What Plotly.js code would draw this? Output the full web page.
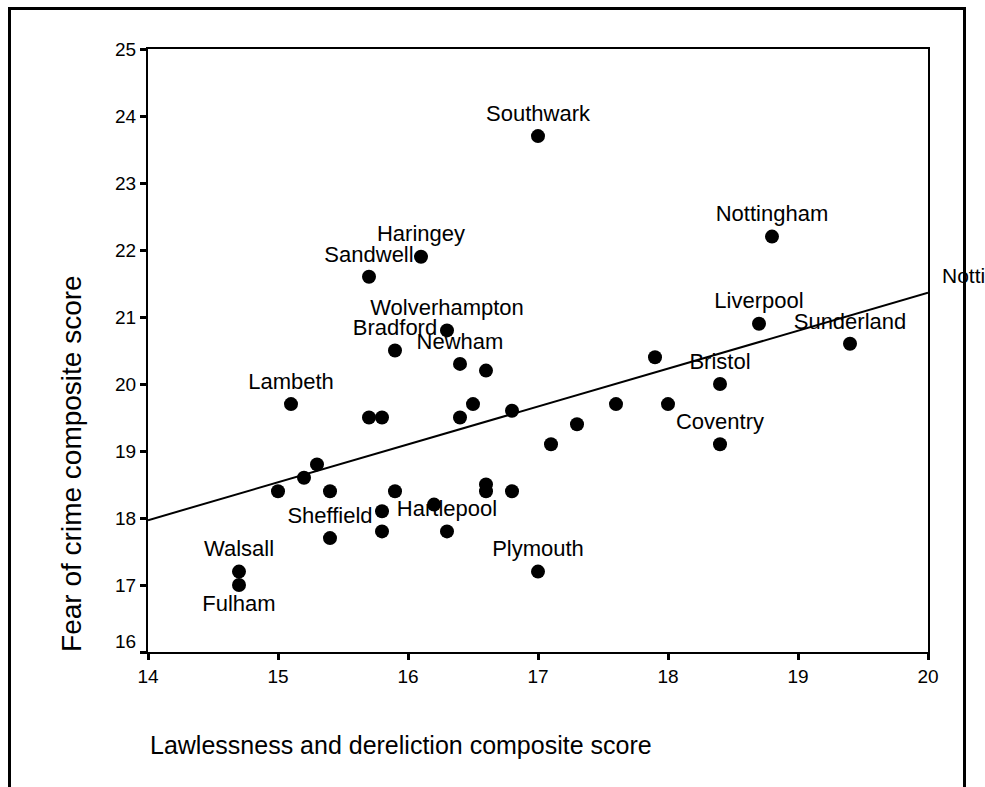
<!DOCTYPE html>
<html>
<head>
<meta charset="utf-8">
<script src="https://cdn.plot.ly/plotly-3.0.1.min.js"></script>
<style>
  html, body { margin: 0; padding: 0; background: #fff; overflow: hidden; }
  #wrap { position: relative; width: 985px; height: 787px; }
  #chart { width: 985px; height: 787px; }
  /* outer box around the figure (open at the bottom edge) */
  #frame {
    position: absolute; left: 8px; top: 7px; width: 958px; height: 800px;
    border: 3px solid #000; box-sizing: border-box; pointer-events: none;
  }
</style>
</head>
<body>
<div id="wrap">
  <div id="chart"></div>
  <div id="frame"></div>
</div>
<script>
// Composite scores per area
const lawlessness = [17.0, 18.8, 16.1, 15.7, 18.7, 16.3, 19.4, 15.9, 17.9, 16.4,
                     16.6, 18.4, 15.1, 16.5, 17.6, 18.0, 16.8, 15.7, 15.8, 16.4,
                     17.3, 17.1, 18.4, 15.3, 15.2, 16.6, 15.0, 15.4, 15.9, 16.6,
                     16.8, 16.2, 15.8, 15.4, 15.8, 16.3, 14.7, 14.7, 17.0];
const fearOfCrime = [23.7, 22.2, 21.9, 21.6, 20.9, 20.8, 20.6, 20.5, 20.4, 20.3,
                     20.2, 20.0, 19.7, 19.7, 19.7, 19.7, 19.6, 19.5, 19.5, 19.5,
                     19.4, 19.1, 19.1, 18.8, 18.6, 18.5, 18.4, 18.4, 18.4, 18.4,
                     18.4, 18.2, 18.1, 17.7, 17.8, 17.8, 17.2, 17.0, 17.2];
const areaNames = ["Southwark", "Nottingham", "Haringey", "Sandwell", "Liverpool",
                   "Wolverhampton", "Sunderland", "Bradford", "", "Newham",
                   "", "Bristol", "Lambeth", "", "", "", "", "", "", "",
                   "", "", "Coventry", "", "", "", "", "", "", "",
                   "", "", "", "Sheffield", "", "Hartlepool", "Walsall", "Fulham", "Plymouth"];

const xTicks = [14, 15, 16, 17, 18, 19, 20];
const yTicks = [16, 17, 18, 19, 20, 21, 22, 23, 24, 25];
const xRange = [14, 20];
const yRange = [16, 25];

const FONT = "Liberation Sans, Arial, Helvetica, sans-serif";

// least-squares fit line
const n = lawlessness.length;
const mx = lawlessness.reduce((a, b) => a + b, 0) / n;
const my = fearOfCrime.reduce((a, b) => a + b, 0) / n;
let sxy = 0, sxx = 0;
for (let i = 0; i < n; i++) {
  sxy += (lawlessness[i] - mx) * (fearOfCrime[i] - my);
  sxx += (lawlessness[i] - mx) ** 2;
}
const slope = sxy / sxx;
const intercept = my - slope * mx;
const fitX = xRange.slice();
const fitY = fitX.map(x => intercept + slope * x);

const labelPos = areaNames.map(name => name === "Fulham" ? "bottom center" : "top center");

const traces = [
  {
    type: "scatter", mode: "lines",
    x: fitX, y: fitY,
    line: { color: "#000", width: 2 },
    hoverinfo: "skip", showlegend: false
  },
  {
    type: "scatter", mode: "markers+text",
    x: lawlessness, y: fearOfCrime,
    text: areaNames,
    textposition: labelPos,
    textfont: { family: FONT, size: 22, color: "#000" },
    marker: { color: "#000", size: 14, symbol: "circle" },
    cliponaxis: false, showlegend: false
  }
];

const TICK_SIZE = 19;

const axisCommon = {
  showgrid: false, zeroline: false,
  showline: true, linecolor: "#000", linewidth: 2, mirror: true,
  ticks: "outside", ticklen: 6, tickwidth: 3, tickcolor: "#000",
  tickfont: { family: FONT, size: TICK_SIZE, color: "#000" }
};

// the lowest y label sits a little above its tick, clear of the x axis
const yTickText = yTicks.map((v, i) => i === 0 ? "" : String(v));

const layout = {
  width: 985, height: 787,
  margin: { l: 148, r: 57, t: 49, b: 135 },
  paper_bgcolor: "#fff", plot_bgcolor: "#fff",
  font: { family: FONT, color: "#000" },
  xaxis: Object.assign({}, axisCommon, { range: xRange, tickvals: xTicks }),
  yaxis: Object.assign({}, axisCommon, { range: yRange, tickvals: yTicks, ticktext: yTickText }),
  showlegend: false,
  annotations: [
    {
      text: String(yTicks[0]),
      xref: "paper", yref: "y", x: -0.0128, y: yTicks[0], yshift: 11,
      xanchor: "right", yanchor: "middle", showarrow: false,
      font: { family: FONT, size: TICK_SIZE, color: "#000" }
    },
    {
      text: "Lawlessness and dereliction composite score",
      xref: "paper", yref: "paper", x: 0, y: -0.154,
      xanchor: "left", yanchor: "middle", showarrow: false,
      font: { family: FONT, size: 25, color: "#000" }
    },
    {
      text: "Fear of crime composite score",
      xref: "paper", yref: "paper", x: -0.0974, y: 0.312,
      xanchor: "center", yanchor: "middle", textangle: -90, showarrow: false,
      font: { family: FONT, size: 28, color: "#000" }
    },
    {
      text: "Notti",
      xref: "paper", yref: "paper", x: 1.0154, y: 0.625,
      xanchor: "left", yanchor: "middle", showarrow: false,
      font: { family: FONT, size: 21, color: "#000" }
    }
  ]
};

Plotly.newPlot("chart", traces, layout, { staticPlot: true, displayModeBar: false });
</script>
</body>
</html>
